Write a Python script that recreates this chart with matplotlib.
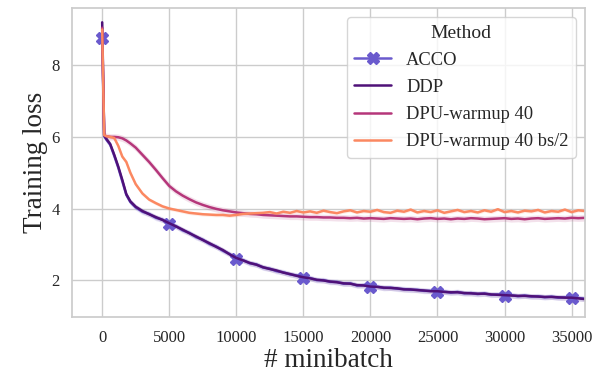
import matplotlib
matplotlib.use("Agg")
import matplotlib.pyplot as plt
import numpy as np
import seaborn as sns

# minibatch index (dense at the start, then every 500)
steps = [0, 150, 300, 600, 900, 1200, 1500, 1800, 2100, 2500] + list(range(3000, 36001, 500))

ddp = [9.20, 6.05, 5.95, 5.80, 5.50, 5.17, 4.80, 4.40, 4.20, 4.05,
       3.93, 3.84, 3.76, 3.68, 3.59, 3.50, 3.41, 3.31, 3.22, 3.12,
       3.03, 2.93, 2.84, 2.72, 2.62, 2.55, 2.48, 2.43, 2.36, 2.31,
       2.27, 2.21, 2.17, 2.12, 2.08, 2.05, 2.01, 1.99, 1.96, 1.94,
       1.91, 1.90, 1.86, 1.85, 1.82, 1.81, 1.79, 1.78, 1.77, 1.74,
       1.74, 1.72, 1.71, 1.69, 1.69, 1.67, 1.66, 1.66, 1.64, 1.63,
       1.62, 1.62, 1.60, 1.59, 1.58, 1.57, 1.56, 1.56, 1.55, 1.54,
       1.53, 1.53, 1.52, 1.51, 1.51, 1.49, 1.47]

acco = [8.75, 6.02, 5.93, 5.78, 5.47, 5.14, 4.76, 4.38, 4.18, 4.03,
        3.91, 3.85, 3.74, 3.69, 3.57, 3.51, 3.39, 3.32, 3.20, 3.13,
        3.01, 2.94, 2.82, 2.73, 2.60, 2.56, 2.47, 2.44, 2.35, 2.32,
        2.25, 2.22, 2.16, 2.13, 2.07, 2.06, 2.00, 2.00, 1.95, 1.95,
        1.90, 1.91, 1.85, 1.86, 1.81, 1.82, 1.78, 1.79, 1.76, 1.75,
        1.73, 1.73, 1.70, 1.70, 1.68, 1.68, 1.65, 1.67, 1.63, 1.64,
        1.61, 1.63, 1.59, 1.60, 1.57, 1.58, 1.55, 1.57, 1.54, 1.55,
        1.52, 1.54, 1.51, 1.52, 1.50, 1.50, 1.48]

dpu = [9.05, 6.05, 6.02, 6.00, 6.00, 5.99, 5.96, 5.90, 5.82, 5.70,
       5.50, 5.30, 5.08, 4.85, 4.63, 4.48, 4.36, 4.26, 4.17, 4.10,
       4.04, 3.99, 3.95, 3.92, 3.89, 3.87, 3.85, 3.84, 3.82, 3.81,
       3.80, 3.79, 3.78, 3.78, 3.77, 3.76, 3.76, 3.75, 3.75, 3.74,
       3.74, 3.73, 3.74, 3.72, 3.73, 3.72, 3.71, 3.73, 3.72, 3.71,
       3.72, 3.70, 3.72, 3.73, 3.71, 3.72, 3.70, 3.72, 3.71, 3.73,
       3.72, 3.70, 3.71, 3.72, 3.73, 3.71, 3.72, 3.70, 3.72, 3.73,
       3.71, 3.72, 3.73, 3.72, 3.74, 3.73, 3.74]

dpu_half = [9.00, 6.05, 6.02, 6.00, 5.97, 5.75, 5.45, 5.30, 5.00, 4.68,
            4.42, 4.25, 4.15, 4.06, 4.00, 3.96, 3.92, 3.88, 3.86, 3.84,
            3.83, 3.82, 3.82, 3.80, 3.82, 3.85, 3.86, 3.87, 3.88, 3.90,
            3.86, 3.91, 3.88, 3.93, 3.89, 3.92, 3.88, 3.94, 3.90, 3.87,
            3.92, 3.95, 3.89, 3.93, 3.91, 3.96, 3.90, 3.88, 3.94, 3.91,
            3.97, 3.89, 3.93, 3.90, 3.95, 3.88, 3.92, 3.96, 3.90, 3.93,
            3.89, 3.95, 3.91, 3.98, 3.90, 3.93, 3.89, 3.94, 3.92, 3.96,
            3.89, 3.93, 3.91, 3.97, 3.90, 3.95, 3.93]

band = {"ACCO": 0.08, "DDP": 0.07, "DPU-warmup 40": 0.09, "DPU-warmup 40 bs/2": 0.05}
marker_steps = [0, 5000, 10000, 15000, 20000, 25000, 30000, 35000]

sns.set_theme(style="whitegrid")
plt.rcParams["font.family"] = ["Liberation Serif", "DejaVu Serif"]

fig, ax = plt.subplots(figsize=(5.96, 3.79), dpi=100)
fig.subplots_adjust(left=72 / 596, right=585 / 596, top=1 - 8 / 379, bottom=1 - 317 / 379)

x = np.array(steps)
marks = [steps.index(s) for s in marker_steps]
series = [
    ("ACCO", acco, "#6a5acd", dict(marker="X", markevery=marks, ms=9)),
    ("DDP", ddp, "#4f1178", {}),
    ("DPU-warmup 40", dpu, "#b5367a", {}),
    ("DPU-warmup 40 bs/2", dpu_half, "#fb8861", {}),
]
for name, y, col, extra in series:
    y = np.array(y)
    ax.fill_between(x, y - band[name], y + band[name], color=col, alpha=0.15, lw=0)
    ax.plot(x, y, color=col, lw=1.8, label=name, **extra)

ax.set_xlim(-2250, 36000)
ax.set_ylim(0.97, 9.6)
ax.set_xticks(range(0, 35001, 5000))
ax.set_yticks([2, 4, 6, 8])
ax.tick_params(labelsize=12, pad=3)
ax.set_xlabel("# minibatch", fontsize=19.5, labelpad=2)
ax.set_ylabel("Training loss", fontsize=19.5, labelpad=2)
for s in ax.spines.values():
    s.set_color("#cccccc")

leg = ax.legend(title="Method", loc="upper right", fontsize=13.3, title_fontsize=14,
                frameon=True, handlelength=2, labelspacing=0.55)
leg.get_frame().set_edgecolor("#cccccc")

fig.savefig("out.png", dpi=100)
